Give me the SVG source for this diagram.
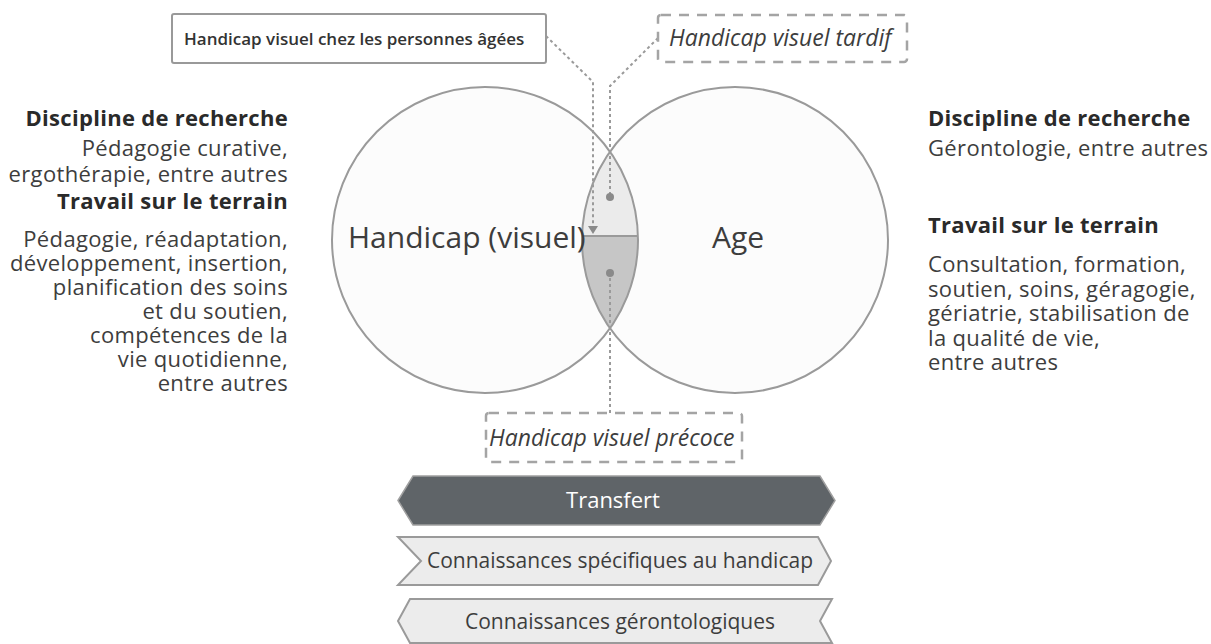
<svg xmlns="http://www.w3.org/2000/svg" width="1211" height="644" viewBox="0 0 1211 644">
<style>
  text { font-family: "Open Sans", "Noto Sans", "Liberation Sans", sans-serif; fill: #3d3d3d; }
  .h { font-weight: 700; font-size: 22px; letter-spacing: 0.3px; fill: #2a2a2a; }
  .b { font-size: 22px; letter-spacing: 0.35px; }
  .big { font-size: 30px; }
  .it { font-style: italic; font-size: 23px; }
  .box { font-weight: 600; font-size: 17px; fill: #333; }
  .bar { font-size: 21px; }
  .conn { fill: none; stroke: #9a9a9a; stroke-width: 2; stroke-dasharray: 3 3; }
  .dash { fill: none; stroke: #a4a4a4; stroke-width: 2.5; stroke-dasharray: 10 8; }
  .circ { fill: none; stroke: #9a9a9a; stroke-width: 2; }
</style>
<rect width="1211" height="644" fill="#ffffff"/>

<g id="circle-handicap">
  <circle cx="485" cy="240" r="153" fill="#fcfcfc"/>
</g>
<g id="circle-age">
  <circle cx="735" cy="240" r="153" fill="#fcfcfc"/>
</g>
<g id="lens">
  <path d="M610,152 A153,153 0 0,0 582.05,236 L637.95,236 A153,153 0 0,0 610,152 Z" fill="#ebebeb"/>
  <path d="M582.05,236 A153,153 0 0,0 610,328 A153,153 0 0,0 637.95,236 Z" fill="#c6c6c6"/>
  <circle class="circ" cx="485" cy="240" r="153"/>
  <circle class="circ" cx="735" cy="240" r="153"/>
  <line x1="582" y1="236" x2="638" y2="236" stroke="#9a9a9a" stroke-width="2"/>
  <text class="big" x="348" y="248">Handicap (visuel)</text>
  <text class="big" x="712" y="248">Age</text>
</g>

<g id="connectors">
  <polyline class="conn" points="546,36 593,82 593,226"/>
  <path d="M588,226 L598,226 L593,234 Z" fill="#8a8a8a"/>
  <polyline class="conn" points="658,38 610,86 610,197"/>
  <circle cx="610" cy="197" r="4" fill="#8a8a8a"/>
  <polyline class="conn" points="610,413 610,273"/>
  <circle cx="610" cy="273" r="4" fill="#8a8a8a"/>
</g>

<g id="box-personnes-agees">
  <rect x="172" y="14" width="374" height="49" rx="2" fill="#ffffff" stroke="#999" stroke-width="2"/>
  <text class="box" x="184" y="45">Handicap visuel chez les personnes âgées</text>
</g>

<g id="box-tardif">
  <rect class="dash" x="658" y="15" width="249" height="47" rx="3"/>
  <text class="it" x="669" y="46">Handicap visuel tardif</text>
</g>

<g id="box-precoce">
  <rect class="dash" x="486" y="413" width="256" height="49" rx="3"/>
  <text class="it" x="489" y="446">Handicap visuel précoce</text>
</g>

<g id="left-text" text-anchor="end">
  <text class="h" x="288" y="126">Discipline de recherche</text>
  <text class="b" x="288" y="156">Pédagogie curative,</text>
  <text class="b" x="288" y="182">ergothérapie, entre autres</text>
  <text class="h" x="288" y="209">Travail sur le terrain</text>
  <text class="b" x="288" y="247">Pédagogie, réadaptation,</text>
  <text class="b" x="288" y="271">développement, insertion,</text>
  <text class="b" x="288" y="295">planification des soins</text>
  <text class="b" x="288" y="319">et du soutien,</text>
  <text class="b" x="288" y="343">compétences de la</text>
  <text class="b" x="288" y="367">vie quotidienne,</text>
  <text class="b" x="288" y="391">entre autres</text>
</g>

<g id="right-text">
  <text class="h" x="928" y="126">Discipline de recherche</text>
  <text class="b" x="928" y="156">Gérontologie, entre autres</text>
  <text class="h" x="928" y="233">Travail sur le terrain</text>
  <text class="b" x="928" y="272">Consultation, formation,</text>
  <text class="b" x="928" y="297">soutien, soins, géragogie,</text>
  <text class="b" x="928" y="321">gériatrie, stabilisation de</text>
  <text class="b" x="928" y="346">la qualité de vie,</text>
  <text class="b" x="928" y="370">entre autres</text>
</g>

<g id="bar-transfert">
  <path d="M398,500.5 L413,476 L820,476 L835,500.5 L820,525 L413,525 Z" fill="#5f6468" stroke="#a0a0a0" stroke-width="1.5"/>
  <text x="613" y="508" text-anchor="middle" style="fill:#ffffff;font-size:22px">Transfert</text>
</g>

<g id="bar-handicap">
  <path d="M398,537 L818,537 L831,561 L818,585 L398,585 L421,561 Z" fill="#ececec" stroke="#9a9a9a" stroke-width="2"/>
  <text class="bar" x="620" y="568" text-anchor="middle">Connaissances spécifiques au handicap</text>
</g>

<g id="bar-geronto">
  <path d="M410,599 L832,599 L820,621 L832,643 L410,643 L398,621 Z" fill="#ececec" stroke="#9a9a9a" stroke-width="2"/>
  <text class="bar" x="620" y="629" text-anchor="middle">Connaissances gérontologiques</text>
</g>
</svg>
